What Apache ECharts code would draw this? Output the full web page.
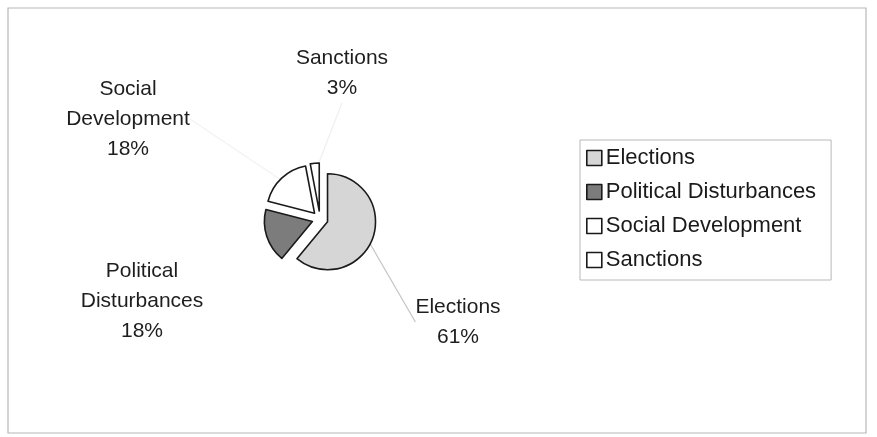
<!DOCTYPE html>
<html>
<head>
<meta charset="utf-8">
<script src="https://cdn.jsdelivr.net/npm/echarts@6/dist/echarts.min.js"></script>
<style>html,body{margin:0;padding:0;background:#fff}#c{width:877px;height:437px}</style>
</head>
<body>
<div id="c"></div>
<script>
const categories = ['Elections', 'Political Disturbances', 'Social Development', 'Sanctions'];
const values = [61, 18, 18, 3];
const fills = ['#d6d6d6', '#7c7c7c', '#ffffff', '#ffffff'];
const labelPos = [[458, 322], [142, 301], [128, 119], [342, 73]];
const leaderColors = ['#c4c4c4', null, '#f2f2f2', '#efefef'];

const FONT = '"Liberation Sans", Arial, sans-serif';
const chart = echarts.init(document.getElementById('c'), null, {renderer: 'canvas'});
const CENTER = [320, 219];
const R = 48;

chart.setOption({
  animation: false,
  backgroundColor: '#ffffff',
  graphic: [{
    type: 'rect', shape: {x: 8, y: 8, width: 858, height: 425},
    style: {fill: 'none', stroke: '#b8b8b8', lineWidth: 1.2}, silent: true
  }],
  legend: {
    orient: 'vertical', left: 580, top: 140,
    padding: [6, 15, 8, 6],
    itemGap: 10, itemWidth: 15, itemHeight: 15,
    borderColor: '#b8b8b8', borderWidth: 1,
    selectedMode: false,
    icon: 'rect',
    textStyle: {fontFamily: FONT, fontSize: 22, color: '#1a1a1a', lineHeight: 24, padding: [0, 0, 0, -1]},
    data: categories.map((n, i) => ({name: n, itemStyle: {color: fills[i], borderColor: '#1a1a1a', borderWidth: 1.6}}))
  },
  series: [{
    // exploded slices
    type: 'pie',
    center: CENTER,
    radius: R,
    startAngle: 90,
    clockwise: true,
    selectedMode: 'multiple',
    selectedOffset: 8,
    silent: true,
    label: {show: false},
    labelLine: {show: false},
    emphasis: {disabled: true},
    data: categories.map((n, i) => ({
      name: n, value: values[i], selected: true,
      itemStyle: {color: fills[i], borderColor: '#1a1a1a', borderWidth: 1.6}
    }))
  }, {
    // labels with leader lines
    type: 'pie',
    center: CENTER,
    radius: R,
    startAngle: 90,
    clockwise: true,
    selectedMode: false,
    silent: true,
    z: 1,
    itemStyle: {color: 'rgba(0,0,0,0)', borderWidth: 0},
    data: categories.map((n, i) => ({
      name: n, value: values[i],
      labelLine: leaderColors[i]
        ? {show: true, lineStyle: {color: leaderColors[i], width: 1.2}}
        : {show: false}
    })),
    label: {
      show: true,
      fontFamily: FONT, fontSize: 21, color: '#1e1e1e', lineHeight: 30, align: 'center',
      formatter: p => p.name.replace(' ', '\n') + '\n' + p.value + '%'
    },
    labelLine: {show: true, length: 12, length2: 0, smooth: false},
    labelLayout: p => ({
      x: labelPos[p.dataIndex][0], y: labelPos[p.dataIndex][1],
      align: 'center', verticalAlign: 'middle'
    }),
    emphasis: {disabled: true}
  }]
});
</script>
</body>
</html>
